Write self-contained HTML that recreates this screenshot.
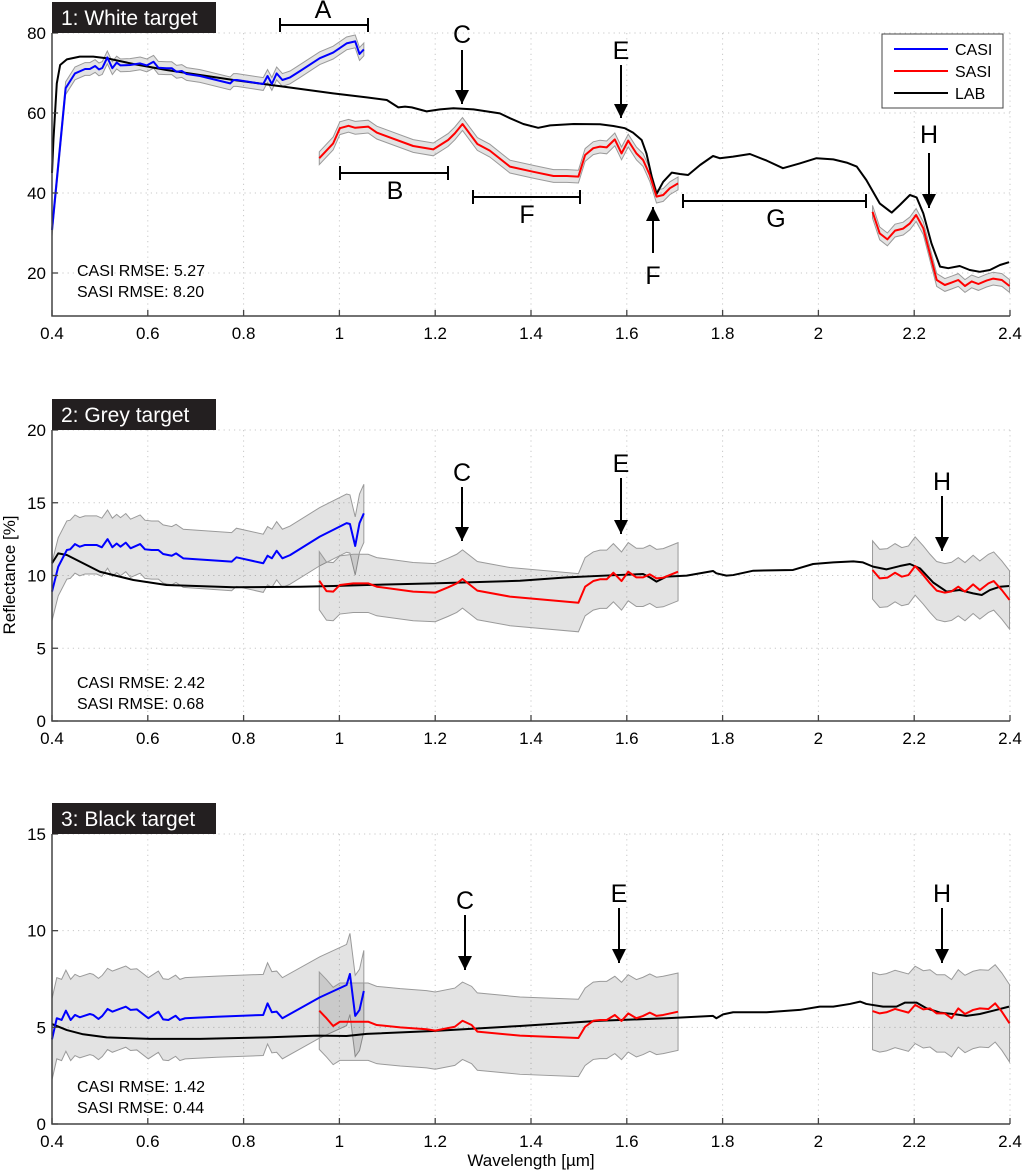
<!DOCTYPE html>
<html><head><meta charset="utf-8"><title>Reflectance comparison</title>
<style>
html,body{margin:0;padding:0;background:#fff;}
svg{display:block;font-family:"Liberation Sans",Arial,sans-serif;}
</style></head>
<body>
<svg id="chart" width="1024" height="1173" viewBox="0 0 1024 1173" xmlns="http://www.w3.org/2000/svg">
<defs><marker id="ah" viewBox="0 0 10 10" refX="10" refY="5" markerWidth="14" markerHeight="14" markerUnits="userSpaceOnUse" orient="auto"><path d="M0,0 L10,5 L0,10 z" fill="#000"/></marker></defs>
</svg>
<script>
// ---------- categories / ticks ----------
const xTicks = [0.4,0.6,0.8,1,1.2,1.4,1.6,1.8,2,2.2,2.4];
const xTickLabels = ["0.4","0.6","0.8","1","1.2","1.4","1.6","1.8","2","2.2","2.4"];
const yTicks1 = [20,40,60,80];
const yTicks2 = [0,5,10,15,20];
const yTicks3 = [0,5,10,15];

// ---------- Panel 1: White target ----------
const p1CasiX = [0.4,0.4285,0.448,0.469,0.479,0.49,0.498,0.505,0.5155,0.526,0.535,0.543,0.563,0.584,0.598,0.612,0.622,0.639,0.65,0.66,0.671,0.681,0.709,0.772,0.779,0.786,0.841,0.85,0.859,0.869,0.881,0.897,0.918,0.959,0.987,1.015,1.033,1.042,1.051];
const p1CasiY = [30.75,66.2,69.9,71,71,71.75,70.9,71.25,73.9,71.2,72.6,71.9,72,72.4,71.9,72.8,71.3,71.2,71.2,70.3,70.5,69.75,69.25,67.4,68.25,68.25,67.25,69.25,67.25,69.9,68.25,68.9,70.5,73.7,75.1,77.4,77.9,74.75,75.9];
const p1SasiAX = [0.958,0.987,1.001,1.019,1.033,1.06,1.078,1.154,1.196,1.227,1.241,1.257,1.288,1.314,1.356,1.405,1.447,1.475,1.499,1.513,1.53,1.544,1.558,1.575,1.589,1.603,1.62,1.634,1.648,1.662,1.676,1.69,1.707];
const p1SasiAY = [48.7,52.4,56.2,56.8,56.3,56.6,55.1,51.75,50.9,53.25,54.9,57.25,52.25,50.6,46.6,45.3,44.25,44.25,44.1,49.5,51.2,51.6,51.4,53.4,49.9,53.1,49.9,48.25,44.5,39.1,39.5,41.2,42.4];
const p1SasiBX = [2.113,2.128,2.144,2.16,2.177,2.191,2.204,2.219,2.247,2.264,2.278,2.292,2.306,2.32,2.334,2.351,2.365,2.383,2.399];
const p1SasiBY = [35.3,29.9,28.4,30.6,31.1,32.4,34.5,31.2,18.25,17,17.6,18.25,16.75,17.9,17.25,18.1,18.6,18.25,16.75];
const p1LabX = [0.4,0.403,0.41,0.417,0.431,0.458,0.486,0.514,0.57,0.639,0.779,0.883,0.987,1.057,1.099,1.123,1.137,1.151,1.182,1.21,1.238,1.28,1.335,1.356,1.384,1.415,1.44,1.489,1.544,1.572,1.596,1.613,1.631,1.641,1.652,1.662,1.676,1.694,1.711,1.728,1.753,1.78,1.794,1.822,1.857,1.892,1.926,1.961,1.996,2.031,2.059,2.08,2.1,2.128,2.153,2.17,2.191,2.205,2.219,2.236,2.254,2.271,2.295,2.316,2.337,2.358,2.379,2.398];
const p1LabY = [45,53.25,67.4,72,73.4,74.1,74.1,73.7,72.25,70.75,68.25,66.6,64.9,63.9,63.25,61.4,61.6,61.4,60.4,60.9,61.2,60.9,59.9,58.7,57.25,56.3,56.9,57.25,57.2,56.75,56.2,55.1,53.25,49.9,44.1,39.75,42.8,45.1,44.75,44.5,47,49.25,48.7,49.1,49.75,48.1,46.2,47.4,48.7,48.4,47.6,46.6,43.25,37.4,35.1,37,39.5,38.9,34.9,27.4,21.6,21.2,21.75,20.75,20.3,20.75,22,22.7];
const p1Err = [1.6, 1.6];

// ---------- Panel 2: Grey target ----------
const p2CasiX = [0.4,0.413,0.431,0.438,0.448,0.458,0.469,0.483,0.493,0.504,0.516,0.526,0.535,0.543,0.554,0.564,0.584,0.594,0.608,0.622,0.632,0.65,0.659,0.674,0.775,0.785,0.841,0.85,0.859,0.869,0.881,0.897,0.959,1.015,1.022,1.033,1.042,1.051];
const p2CasiY = [8.89,10.6,11.75,11.8,12.16,11.98,12.1,12.1,12.1,11.94,12.5,11.94,12.2,11.98,12.26,11.87,12.16,11.8,11.75,11.75,11.48,11.36,11.52,11.18,10.95,11.25,10.84,11.36,11.18,11.7,11.18,11.4,12.67,13.6,13.54,12.03,13.6,14.27];
const p2SasiAX = [0.958,0.973,0.987,1.001,1.029,1.06,1.078,1.154,1.2,1.227,1.245,1.257,1.288,1.356,1.499,1.513,1.53,1.544,1.558,1.572,1.589,1.603,1.62,1.634,1.648,1.662,1.676,1.707];
const p2SasiAY = [9.64,8.93,8.89,9.35,9.46,9.46,9.23,8.89,8.82,9.19,9.46,9.76,8.96,8.55,8.13,9.23,9.62,9.74,9.74,10.19,9.62,10.26,9.87,9.87,10.08,9.8,9.85,10.26];
const p2SasiBX = [2.113,2.128,2.144,2.16,2.174,2.188,2.202,2.219,2.233,2.247,2.264,2.278,2.292,2.306,2.323,2.337,2.355,2.366,2.383,2.399];
const p2SasiBY = [10.38,9.8,9.85,10.19,9.92,10.03,10.65,10.03,9.46,8.96,8.82,8.91,9.23,8.89,9.39,9.0,9.46,9.62,9.0,8.32];
const p2LabX = [0.4,0.413,0.431,0.465,0.5,0.57,0.639,0.779,0.918,0.987,1.057,1.196,1.377,1.475,1.579,1.634,1.648,1.662,1.683,1.725,1.78,1.787,1.808,1.822,1.864,1.947,1.989,2.031,2.073,2.093,2.114,2.142,2.17,2.191,2.212,2.24,2.268,2.295,2.323,2.341,2.358,2.379,2.398];
const p2LabY = [10.84,11.52,11.41,10.84,10.26,9.69,9.35,9.19,9.23,9.28,9.35,9.46,9.64,9.87,10.03,10.1,9.87,9.58,9.92,9.99,10.31,10.15,9.99,10.03,10.33,10.38,10.79,10.9,10.97,10.9,10.61,10.42,10.65,10.79,10.49,9.51,8.89,9.0,8.77,8.66,9.0,9.23,9.28];
const p2Err = [2.0, 2.0];

// ---------- Panel 3: Black target ----------
const p3CasiX = [0.4,0.41,0.42,0.429,0.439,0.448,0.458,0.479,0.486,0.497,0.505,0.516,0.526,0.539,0.554,0.564,0.577,0.601,0.622,0.632,0.643,0.658,0.667,0.678,0.744,0.841,0.85,0.859,0.869,0.881,0.959,1.015,1.022,1.033,1.042,1.051];
const p3CasiY = [4.38,5.47,5.38,5.86,5.38,5.64,5.52,5.69,5.64,5.43,5.59,5.95,5.81,5.93,6.07,5.9,5.93,5.47,5.81,5.41,5.38,5.6,5.38,5.47,5.55,5.64,6.24,5.78,5.81,5.47,6.55,7.19,7.76,5.59,5.9,6.88];
const p3SasiAX = [0.958,0.973,0.987,1.001,1.06,1.078,1.127,1.182,1.2,1.241,1.257,1.276,1.288,1.377,1.499,1.513,1.53,1.544,1.558,1.575,1.589,1.603,1.62,1.634,1.648,1.662,1.676,1.707];
const p3SasiAY = [5.86,5.47,5.07,5.29,5.29,5.12,5.0,4.9,4.83,5.03,5.34,5.12,4.78,4.57,4.45,5.03,5.34,5.38,5.38,5.64,5.33,5.72,5.47,5.59,5.76,5.59,5.64,5.81];
const p3SasiBX = [2.113,2.128,2.142,2.16,2.188,2.202,2.219,2.233,2.247,2.264,2.278,2.292,2.306,2.323,2.337,2.355,2.369,2.383,2.399];
const p3SasiBY = [5.84,5.72,5.78,5.95,5.76,6.16,5.93,5.98,5.72,5.72,5.47,5.98,5.69,5.9,5.98,5.95,6.24,5.81,5.21];
const p3LabX = [0.4,0.431,0.465,0.514,0.605,0.709,0.848,0.953,1.015,1.057,1.196,1.377,1.544,1.683,1.78,1.787,1.801,1.822,1.892,1.961,2.003,2.031,2.066,2.087,2.1,2.135,2.163,2.181,2.205,2.226,2.254,2.281,2.309,2.337,2.365,2.398];
const p3LabY = [5.17,4.86,4.64,4.48,4.4,4.4,4.48,4.57,4.55,4.66,4.81,5.07,5.34,5.47,5.59,5.47,5.67,5.78,5.78,5.9,6.07,6.07,6.21,6.33,6.21,6.07,6.07,6.28,6.28,5.98,5.76,5.69,5.59,5.69,5.86,6.07];
const p3Err = [2.1, 2.0];

// ---------- drawing ----------
const NS = "http://www.w3.org/2000/svg";
const svg = document.getElementById("chart");
function mk(tag, attrs, parent){
  const e = document.createElementNS(NS, tag);
  for (const k in attrs) e.setAttribute(k, attrs[k]);
  (parent||svg).appendChild(e);
  return e;
}
const X0 = 52, X1 = 1010;
function xs(v){ return X0 + (v - 0.4) / 2.0 * (X1 - X0); }
function makeY(vTop, yTop, vBot, yBot){ return v => yTop + (vTop - v) / (vTop - vBot) * (yBot - yTop); }

function drawPanel(cfg){
  const g = mk("g", {});
  
  
  const ys = cfg.ys;
  xTicks.forEach((t,i) => {
    if (i === 0) return;
    const gl = mk("line", {x1:xs(t), x2:xs(t), y1:cfg.yTop, y2:cfg.yBot, stroke:"#c8c8c8", "stroke-width":1, "stroke-dasharray":"1.2,4"}, g);
    
    
  });
  cfg.yTicks.forEach(t => {
    if (ys(t) >= cfg.yBot - 1) return;
    const gl = mk("line", {x1:X0, x2:X1, y1:ys(t), y2:ys(t), stroke:"#c8c8c8", "stroke-width":1, "stroke-dasharray":"1.2,4"}, g);
    
    
  });
  function band(xa, ya, err, nm){
    let up = xa.map((x,i)=> xs(x)+","+ys(ya[i]+err)).join(" ");
    let lo = xa.map((x,i)=> xs(x)+","+ys(ya[i]-err)).reverse().join(" ");
    const p = mk("polygon", {points: up+" "+lo, fill:"rgba(0,0,0,0.11)", stroke:"#9a9a9a", "stroke-width":1}, g);
    
    
  }
  band(cfg.casiX, cfg.casiY, cfg.err[0], 'casi-uncertainty-band');
  band(cfg.sasiAX, cfg.sasiAY, cfg.err[1], 'sasi-uncertainty-band');
  band(cfg.sasiBX, cfg.sasiBY, cfg.err[1], 'sasi-uncertainty-band');
  function line(xa, ya, col, nm, w){
    const p = mk("polyline", {points: xa.map((x,i)=> xs(x)+","+ys(ya[i])).join(" "), fill:"none", stroke:col, "stroke-width":w||2, "stroke-linejoin":"round"}, g);
    
    
  }
  line(cfg.labX, cfg.labY, "#000", 'lab-line', 2);
  line(cfg.sasiAX, cfg.sasiAY, "#ff0000", 'sasi-line', 2);
  line(cfg.sasiBX, cfg.sasiBY, "#ff0000", 'sasi-line', 2);
  line(cfg.casiX, cfg.casiY, "#0000ff", 'casi-line', 2);
  const ax = mk("path", {d:`M${X0},${cfg.yTop} L${X0},${cfg.yBot} L${X1},${cfg.yBot}`, fill:"none", stroke:"#444", "stroke-width":1.5}, g);
  
  
  xTicks.forEach((t,i) => {
    mk("line", {x1:xs(t), x2:xs(t), y1:cfg.yBot, y2:cfg.yBot-6, stroke:"#444", "stroke-width":1.3}, g);
    const tl = mk("text", {x:xs(t), y:cfg.yBot+23, "font-size":17, "text-anchor":"middle", fill:"#000"}, g);
    tl.textContent = xTickLabels[i];
    
    
  });
  cfg.yTicks.forEach(t => {
    mk("line", {x1:X0, x2:X0+6, y1:ys(t), y2:ys(t), stroke:"#444", "stroke-width":1.3}, g);
    const tl = mk("text", {x:X0-6, y:ys(t)+6, "font-size":17, "text-anchor":"end", fill:"#000"}, g);
    tl.textContent = String(t);
    
    
  });
  const tb = mk("rect", {x:X0, y:cfg.yTop-31, width:164, height:31, fill:"#231f20"}, g);
  
  
  const tt = mk("text", {x:X0+9, y:cfg.yTop-8, "font-size":21, fill:"#fff"}, g);
  tt.textContent = cfg.title;
  
  
  cfg.rmse.forEach((s,i) => {
    const r = mk("text", {x:77, y:cfg.rmseY + i*21, "font-size":16, fill:"#000"}, g);
    r.textContent = s;
    
    
  });
  (cfg.arrows||[]).forEach(a => {
    const l = mk("line", {x1:a.x, x2:a.x, y1:a.y1, y2:a.y2, stroke:"#000", "stroke-width":2, "marker-end":"url(#ah)"}, g);
    
    
    const t = mk("text", {x:a.x, y:a.ty, "font-size":25, "text-anchor":"middle", fill:"#000"}, g);
    t.textContent = a.label;
    
    
  });
  (cfg.brackets||[]).forEach(b => {
    const p = mk("path", {d:`M${b.x1},${b.y-7} V${b.y+7} M${b.x1},${b.y} H${b.x2} M${b.x2},${b.y-7} V${b.y+7}`, stroke:"#000", "stroke-width":2, fill:"none"}, g);
    
    
    const t = mk("text", {x:b.tx, y:b.ty, "font-size":25, "text-anchor":"middle", fill:"#000"}, g);
    t.textContent = b.label;
    
    
  });
}

drawPanel({name:'panel-white-target', title:'1: White target', yTop:33, yBot:316, ys:makeY(80,33,9.25,316), yTicks:yTicks1,
  casiX:p1CasiX, casiY:p1CasiY, sasiAX:p1SasiAX, sasiAY:p1SasiAY, sasiBX:p1SasiBX, sasiBY:p1SasiBY, labX:p1LabX, labY:p1LabY, err:p1Err,
  rmse:['CASI RMSE: 5.27','SASI RMSE: 8.20'], rmseY:276,
  arrows:[{x:462,y1:50,y2:104,ty:43,label:'C'},{x:621,y1:65,y2:118,ty:59,label:'E'},{x:929,y1:153,y2:208,ty:143,label:'H'},{x:653,y1:253,y2:207,ty:284,label:'F'}],
  brackets:[{x1:280,x2:368,y:25,tx:323,ty:18,label:'A'},{x1:340,x2:448,y:173,tx:395,ty:199,label:'B'},{x1:473,x2:580,y:197,tx:527,ty:223,label:'F'},{x1:683,x2:866,y:201,tx:776,ty:227,label:'G'}]
});
drawPanel({name:'panel-grey-target', title:'2: Grey target', yTop:430, yBot:721, ys:makeY(20,430,0,721), yTicks:yTicks2,
  casiX:p2CasiX, casiY:p2CasiY, sasiAX:p2SasiAX, sasiAY:p2SasiAY, sasiBX:p2SasiBX, sasiBY:p2SasiBY, labX:p2LabX, labY:p2LabY, err:p2Err,
  rmse:['CASI RMSE: 2.42','SASI RMSE: 0.68'], rmseY:688,
  arrows:[{x:462,y1:487,y2:541,ty:481,label:'C'},{x:621,y1:478,y2:534,ty:472,label:'E'},{x:942,y1:496,y2:551,ty:490,label:'H'}]
});
drawPanel({name:'panel-black-target', title:'3: Black target', yTop:834, yBot:1124, ys:makeY(15,834,0,1124), yTicks:yTicks3,
  casiX:p3CasiX, casiY:p3CasiY, sasiAX:p3SasiAX, sasiAY:p3SasiAY, sasiBX:p3SasiBX, sasiBY:p3SasiBY, labX:p3LabX, labY:p3LabY, err:p3Err,
  rmse:['CASI RMSE: 1.42','SASI RMSE: 0.44'], rmseY:1092,
  arrows:[{x:465,y1:915,y2:970,ty:909,label:'C'},{x:619,y1:908,y2:963,ty:902,label:'E'},{x:942,y1:908,y2:963,ty:902,label:'H'}]
});

const lg = mk("g", {});


mk("rect", {x:882, y:34, width:121, height:74, fill:"#fff", stroke:"#444", "stroke-width":1}, lg);
const legNames = ["CASI","SASI","LAB"];
const legCols = ["#0000ff","#ff0000","#000"];
legNames.forEach((n,i) => {
  const e = mk("line", {x1:894, x2:948, y1:49+i*22, y2:49+i*22, stroke:legCols[i], "stroke-width":2}, lg);
  
  
  const t = mk("text", {x:955, y:55+i*22, "font-size":16, fill:"#000"}, lg);
  t.textContent = n;
  
  
});

const xt = mk("text", {x:531, y:1166, "font-size":17, "text-anchor":"middle", fill:"#000"});
xt.textContent = "Wavelength [µm]";


const yt = mk("text", {x:0, y:0, "font-size":17, "text-anchor":"middle", fill:"#000", transform:"translate(15,575) rotate(-90)"});
yt.textContent = "Reflectance [%]";


</script>
</body></html>
